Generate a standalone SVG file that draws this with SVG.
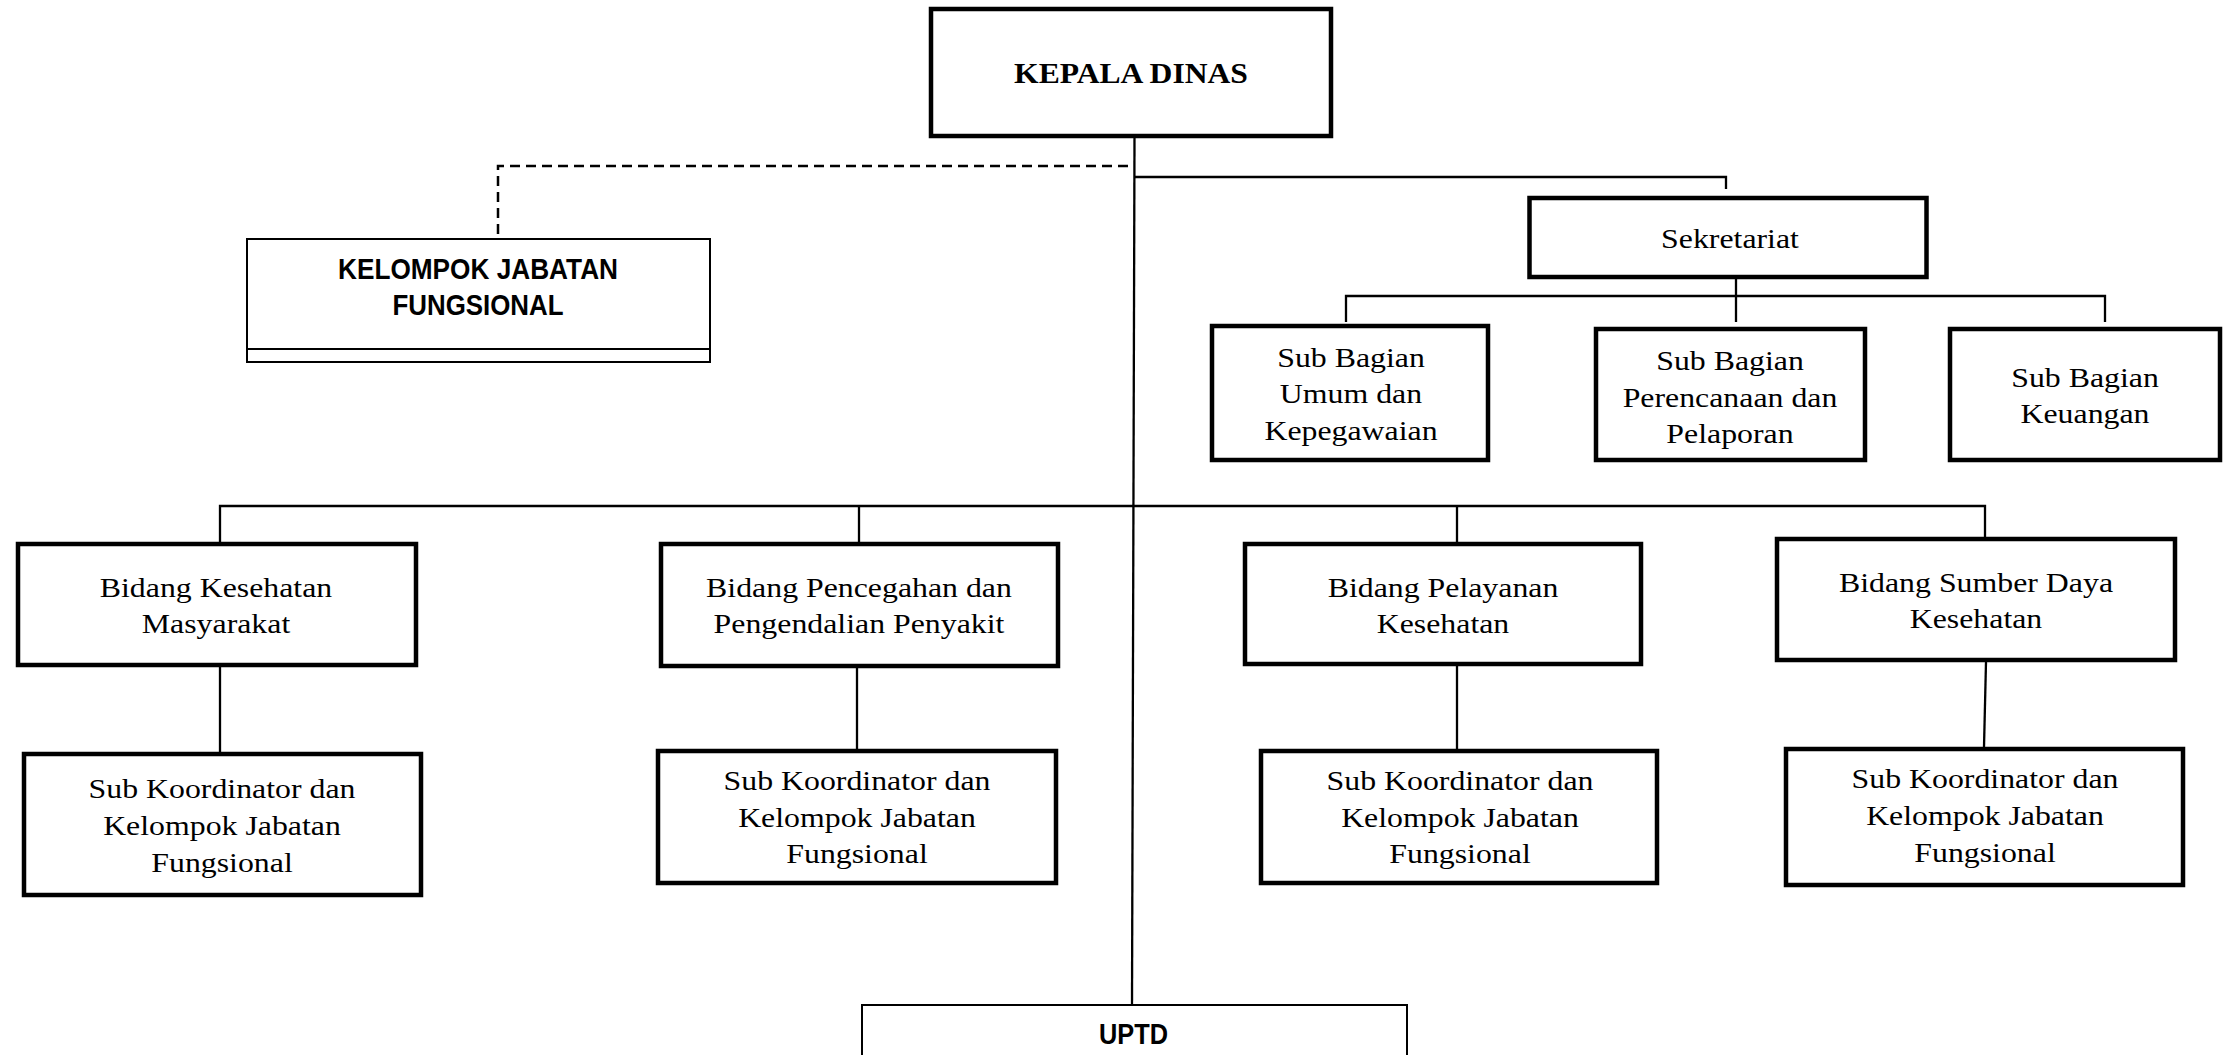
<svg xmlns="http://www.w3.org/2000/svg" width="2231" height="1055" viewBox="0 0 2231 1055">
<style>
.bx{fill:#fff;stroke:#000;stroke-width:4.5}
.bt{fill:#fff;stroke:#000;stroke-width:2}
.c{fill:none;stroke:#000;stroke-width:2.3}
.d{fill:none;stroke:#000;stroke-width:2.5;stroke-dasharray:10 6}
.t{font-family:"Liberation Serif","Times New Roman",serif;font-size:28px;text-anchor:middle;fill:#000}
.tb{font-family:"Liberation Serif","Times New Roman",serif;font-size:30px;font-weight:bold;text-anchor:middle;fill:#000}
.s{font-family:"Liberation Sans Narrow","Liberation Sans",Arial,sans-serif;font-size:29.5px;font-weight:bold;text-anchor:middle;fill:#000}
</style>
<rect width="2231" height="1055" fill="#fff"/>
<g id="connectors">
<path class="c" d="M1134.5 138 L1132 1004"/>
<path class="d" d="M1128 166 H498 V238"/>
<path class="c" d="M1134.5 177 H1726 V189"/>
<path class="c" d="M1736 279 V322"/>
<path class="c" d="M1346 322 V296 H2105 V322"/>
<path class="c" d="M220 542 V506 H1985 V537"/>
<path class="c" d="M859 506 V542"/>
<path class="c" d="M1457 506 V542"/>
<path class="c" d="M220 667 V752"/>
<path class="c" d="M857 668 V749"/>
<path class="c" d="M1457 666 V749"/>
<path class="c" d="M1986 662 L1984 747"/>
</g>
<g id="kepala-dinas">
<rect class="bx" x="931" y="9" width="400" height="127"/>
<text class="tb" transform="translate(1131,0) scale(1.054,1)" x="0" y="83">KEPALA DINAS</text>
</g>
<g id="kelompok-jabatan-fungsional">
<rect class="bt" x="247" y="239" width="463" height="123"/>
<line x1="247" y1="349" x2="710" y2="349" stroke="#000" stroke-width="2"/>
<text class="s" x="478" y="279" textLength="280" lengthAdjust="spacingAndGlyphs">KELOMPOK JABATAN</text>
<text class="s" x="478" y="315" textLength="171" lengthAdjust="spacingAndGlyphs">FUNGSIONAL</text>
</g>
<g id="sekretariat">
<rect class="bx" x="1529.5" y="198" width="397" height="79"/>
<text class="t" transform="translate(1730,0) scale(1.137,1)" x="0" y="248">Sekretariat</text>
</g>
<g id="sub-bagian-umum">
<rect class="bx" x="1212" y="326" width="276" height="134"/>
<g transform="translate(1351,0) scale(1.137,1)">
<text class="t" x="0" y="367">Sub Bagian</text>
<text class="t" x="0" y="403">Umum dan</text>
<text class="t" x="0" y="440">Kepegawaian</text>
</g>
</g>
<g id="sub-bagian-perencanaan">
<rect class="bx" x="1596" y="329" width="269" height="131"/>
<g transform="translate(1730,0) scale(1.137,1)">
<text class="t" x="0" y="370">Sub Bagian</text>
<text class="t" x="0" y="407">Perencanaan dan</text>
<text class="t" x="0" y="443">Pelaporan</text>
</g>
</g>
<g id="sub-bagian-keuangan">
<rect class="bx" x="1950" y="329" width="270" height="131"/>
<g transform="translate(2085,0) scale(1.137,1)">
<text class="t" x="0" y="387">Sub Bagian</text>
<text class="t" x="0" y="423">Keuangan</text>
</g>
</g>
<g id="bidang-kesmas">
<rect class="bx" x="18" y="544" width="398" height="121"/>
<g transform="translate(216,0) scale(1.137,1)">
<text class="t" x="0" y="597">Bidang Kesehatan</text>
<text class="t" x="0" y="633">Masyarakat</text>
</g>
</g>
<g id="bidang-p2p">
<rect class="bx" x="661" y="544" width="397" height="122"/>
<g transform="translate(859,0) scale(1.137,1)">
<text class="t" x="0" y="597">Bidang Pencegahan dan</text>
<text class="t" x="0" y="633">Pengendalian Penyakit</text>
</g>
</g>
<g id="bidang-pelayanan">
<rect class="bx" x="1245" y="544" width="396" height="120"/>
<g transform="translate(1443,0) scale(1.137,1)">
<text class="t" x="0" y="597">Bidang Pelayanan</text>
<text class="t" x="0" y="633">Kesehatan</text>
</g>
</g>
<g id="bidang-sdk">
<rect class="bx" x="1777" y="539" width="398" height="121"/>
<g transform="translate(1976,0) scale(1.137,1)">
<text class="t" x="0" y="592">Bidang Sumber Daya</text>
<text class="t" x="0" y="628">Kesehatan</text>
</g>
</g>
<g id="sub-koordinator-1">
<rect class="bx" x="24" y="754" width="397" height="141"/>
<g transform="translate(222,0) scale(1.137,1)">
<text class="t" x="0" y="798">Sub Koordinator dan</text>
<text class="t" x="0" y="835">Kelompok Jabatan</text>
<text class="t" x="0" y="872">Fungsional</text>
</g>
</g>
<g id="sub-koordinator-2">
<rect class="bx" x="658" y="751" width="398" height="132"/>
<g transform="translate(857,0) scale(1.137,1)">
<text class="t" x="0" y="790">Sub Koordinator dan</text>
<text class="t" x="0" y="827">Kelompok Jabatan</text>
<text class="t" x="0" y="863">Fungsional</text>
</g>
</g>
<g id="sub-koordinator-3">
<rect class="bx" x="1261" y="751" width="396" height="132"/>
<g transform="translate(1460,0) scale(1.137,1)">
<text class="t" x="0" y="790">Sub Koordinator dan</text>
<text class="t" x="0" y="827">Kelompok Jabatan</text>
<text class="t" x="0" y="863">Fungsional</text>
</g>
</g>
<g id="sub-koordinator-4">
<rect class="bx" x="1786" y="749" width="397" height="136"/>
<g transform="translate(1985,0) scale(1.137,1)">
<text class="t" x="0" y="788">Sub Koordinator dan</text>
<text class="t" x="0" y="825">Kelompok Jabatan</text>
<text class="t" x="0" y="862">Fungsional</text>
</g>
</g>
<g id="uptd">
<rect class="bt" x="862" y="1005" width="545" height="80"/>
<text class="s" x="1133.5" y="1044" textLength="69" lengthAdjust="spacingAndGlyphs">UPTD</text>
</g>
</svg>
